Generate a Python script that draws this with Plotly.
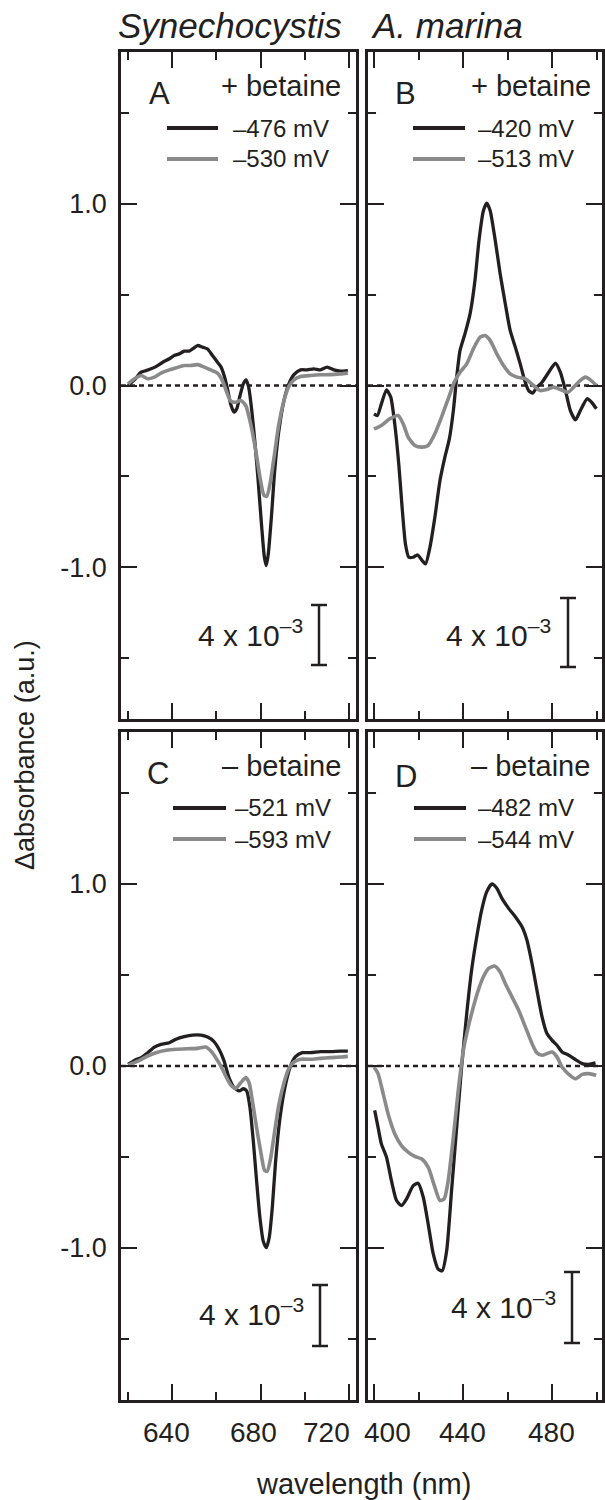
import plotly.graph_objects as go

# ---------------- data ----------------
# Panel A: Synechocystis + betaine
A_wl_black = [620.0, 622.9, 625.9, 628.1, 630.4, 632.6, 635.7, 638.7, 640.9, 643.2, 645.4, 647.7, 649.2,
              651.5, 653.7, 656.0, 658.2, 660.5, 662.0, 663.5, 665.0, 666.5, 668.0, 669.2, 670.7, 672.2,
              673.4, 674.6, 676.0, 677.5, 679.0, 680.5, 681.7, 682.6, 683.5, 684.9, 686.4, 688.3, 690.6,
              692.8, 695.1, 698.1, 701.1, 704.1, 707.1, 710.1, 713.2, 716.2, 719.5]
A_black = [0.0, 0.031, 0.073, 0.082, 0.092, 0.104, 0.128, 0.147, 0.165, 0.174, 0.189, 0.189, 0.201,
           0.220, 0.211, 0.201, 0.165, 0.128, 0.104, 0.055, -0.018, -0.104, -0.147, -0.128, -0.055, 0.009,
           0.031, -0.009, -0.137, -0.321, -0.540, -0.778, -0.943, -0.991, -0.925, -0.723, -0.467, -0.247, -0.082,
           0.009, 0.060, 0.086, 0.086, 0.092, 0.086, 0.101, 0.086, 0.079, 0.082]
A_wl_gray = [620.0, 622.9, 625.9, 628.9, 631.9, 634.9, 638.7, 641.7, 645.4, 648.4, 651.5, 654.5, 657.5,
             660.5, 662.7, 664.7, 666.5, 668.8, 671.0, 673.3, 675.5, 677.8, 679.7, 681.5, 682.8, 684.3,
             686.1, 688.3, 690.6, 692.8, 695.1, 698.1, 702.6, 707.1, 711.6, 716.2, 719.5]
A_gray = [0.009, 0.037, 0.055, 0.037, 0.046, 0.068, 0.086, 0.097, 0.110, 0.110, 0.115, 0.101, 0.086,
          0.068, 0.027, -0.037, -0.086, -0.092, -0.082, -0.110, -0.211, -0.357, -0.504, -0.604, -0.610, -0.540,
          -0.394, -0.211, -0.082, -0.005, 0.031, 0.049, 0.055, 0.059, 0.060, 0.064, 0.068]

# Panel B: A. marina + betaine
B_wl_black = [400.0, 401.5, 403.3, 405.6, 407.5, 409.3, 411.1, 412.6, 414.1, 415.6, 417.6, 419.5, 421.6,
              423.1, 425.1, 427.3, 429.6, 431.8, 433.8, 435.6, 437.1, 438.6, 440.8, 443.1, 445.3, 447.1,
              449.1, 450.6, 452.1, 454.4, 456.6, 458.9, 461.1, 463.4, 465.6, 467.6, 469.4, 471.2, 473.1,
              475.4, 478.4, 481.4, 483.6, 485.9, 488.1, 490.4, 492.6, 495.6, 497.6, 499.8]
B_black = [-0.156, -0.165, -0.101, -0.024, -0.064, -0.211, -0.431, -0.670, -0.872, -0.945, -0.945, -0.932, -0.963,
           -0.982, -0.890, -0.725, -0.523, -0.394, -0.294, -0.138, 0.046, 0.193, 0.284, 0.394, 0.578, 0.798,
           0.963, 1.004, 0.963, 0.798, 0.615, 0.450, 0.303, 0.211, 0.119, 0.028, -0.028, -0.042, -0.009,
           0.018, 0.073, 0.123, 0.073, -0.028, -0.138, -0.189, -0.138, -0.073, -0.092, -0.128]
B_wl_gray = [400.0, 403.3, 407.1, 410.8, 413.1, 415.3, 418.3, 421.3, 424.3, 427.3, 430.3, 433.3, 436.0,
             438.6, 441.6, 444.6, 447.6, 449.8, 452.1, 455.1, 458.1, 461.1, 464.1, 467.9, 471.6, 474.6,
             477.6, 480.6, 483.6, 487.1, 489.6, 492.6, 494.8, 497.1, 499.8]
B_gray = [-0.239, -0.220, -0.183, -0.165, -0.211, -0.284, -0.330, -0.339, -0.330, -0.266, -0.174, -0.073, 0.018,
          0.073, 0.119, 0.202, 0.266, 0.275, 0.248, 0.174, 0.110, 0.064, 0.046, 0.037, 0.000, -0.028,
          -0.022, -0.009, -0.022, -0.037, -0.009, 0.028, 0.046, 0.031, 0.0]

# Panel C: Synechocystis - betaine
C_wl_black = [620.0, 622.9, 625.9, 628.9, 631.9, 634.9, 638.7, 641.7, 645.4, 649.2, 653.0, 656.0, 658.7,
              661.2, 663.5, 665.7, 668.0, 670.3, 672.2, 673.7, 675.2, 676.7, 678.2, 679.7, 681.2, 682.6,
              683.9, 685.3, 686.8, 688.8, 691.0, 693.3, 695.8, 698.9, 702.6, 707.1, 711.6, 716.2, 719.5]
C_black = [0.009, 0.031, 0.046, 0.073, 0.104, 0.119, 0.128, 0.147, 0.161, 0.170, 0.170, 0.159, 0.137,
           0.092, 0.027, -0.064, -0.119, -0.137, -0.125, -0.137, -0.229, -0.412, -0.632, -0.833, -0.962, -0.998,
           -0.943, -0.778, -0.522, -0.284, -0.119, -0.009, 0.051, 0.073, 0.073, 0.079, 0.079, 0.082, 0.082]
C_wl_gray = [620.0, 624.4, 628.9, 632.6, 637.2, 641.7, 646.9, 651.5, 655.2, 657.5, 659.7, 662.0, 664.2,
             666.5, 668.8, 671.0, 673.3, 674.8, 676.3, 678.2, 680.0, 681.8, 683.0, 684.6, 686.4, 688.3,
             690.6, 692.8, 695.1, 698.1, 702.6, 707.1, 711.6, 716.2, 719.5]
C_gray = [0.005, 0.027, 0.055, 0.073, 0.086, 0.092, 0.095, 0.097, 0.104, 0.082, 0.046, 0.0, -0.055,
          -0.104, -0.123, -0.092, -0.064, -0.092, -0.192, -0.339, -0.467, -0.573, -0.579, -0.504, -0.357, -0.211,
          -0.092, -0.013, 0.022, 0.037, 0.037, 0.042, 0.046, 0.049, 0.053]

# Panel D: A. marina - betaine
D_wl_black = [400.3, 401.8, 403.3, 405.6, 407.8, 410.1, 412.3, 414.6, 417.6, 419.8, 422.1, 424.3, 426.6,
              428.8, 430.6, 432.6, 434.8, 437.1, 439.3, 441.6, 443.8, 446.1, 448.3, 450.6, 452.9, 455.1,
              457.4, 460.4, 463.4, 466.4, 468.6, 470.9, 473.1, 475.4, 477.6, 479.9, 482.1, 484.4, 487.4,
              490.4, 493.4, 496.4, 499.4]
D_black = [-0.244, -0.336, -0.428, -0.501, -0.629, -0.739, -0.767, -0.730, -0.657, -0.644, -0.721, -0.868, -1.033,
           -1.116, -1.125, -1.015, -0.684, -0.336, -0.006, 0.288, 0.527, 0.710, 0.857, 0.958, 1.000, 0.976,
           0.921, 0.866, 0.820, 0.765, 0.692, 0.563, 0.417, 0.270, 0.178, 0.141, 0.114, 0.077, 0.059,
           0.035, 0.013, 0.009, 0.017]
D_wl_gray = [400.0, 401.8, 404.1, 406.3, 409.3, 412.3, 415.3, 418.3, 421.3, 424.3, 427.3, 429.6, 431.5,
             433.3, 435.6, 437.8, 440.1, 442.3, 444.6, 446.8, 449.1, 451.4, 454.1, 456.6, 458.9, 461.9,
             464.9, 467.9, 470.9, 473.1, 475.4, 477.6, 479.9, 482.1, 484.4, 487.4, 490.4, 493.4, 496.4, 499.7]
D_gray = [-0.006, -0.042, -0.152, -0.262, -0.372, -0.437, -0.473, -0.497, -0.510, -0.556, -0.666, -0.739, -0.730,
          -0.629, -0.391, -0.134, 0.086, 0.215, 0.325, 0.417, 0.490, 0.536, 0.549, 0.517, 0.453, 0.380,
          0.306, 0.215, 0.123, 0.072, 0.059, 0.068, 0.077, 0.050, -0.006, -0.046, -0.070, -0.046, -0.042, -0.051]

panel_letters = ["A", "B", "C", "D"]
conditions = ["+ betaine", "+ betaine", "– betaine", "– betaine"]
potentials = [["–476 mV", "–530 mV"], ["–420 mV", "–513 mV"],
              ["–521 mV", "–593 mV"], ["–482 mV", "–544 mV"]]
organisms = ["Synechocystis", "A. marina"]

y_major = [-1.0, 0.0, 1.0]
y_major_text = ["-1.0", "0.0", "1.0"]
y_minor = [-1.5, -0.5, 0.5, 1.5]
xA_major = [640, 680, 720]
xA_minor = [620, 660, 700]
xB_major = [400, 440, 480]
xB_minor = [420, 460, 500]
scale_label = "4 x 10<sup>–3</sup>"

# ---------------- styling / layout ----------------
W, H = 605, 1500
INK = "#231f20"
GRAY = "#8a8a8a"
FONT = "Liberation Sans, Arial, sans-serif"


def px(xp):
    return xp / W


def py(yp):
    return 1 - yp / H


col_dom = [[px(121), px(356)], [px(368), px(602)]]
row_dom = [[py(719), py(52)], [py(1400), py(732)]]
xranges = [[616.8, 723.2], [397.3, 502.3]]

fig = go.Figure()

panels = [
    (A_wl_black, A_black, A_wl_gray, A_gray),
    (B_wl_black, B_black, B_wl_gray, B_gray),
    (C_wl_black, C_black, C_wl_gray, C_gray),
    (D_wl_black, D_black, D_wl_gray, D_gray),
]

for i, (xb, yb, xg, yg) in enumerate(panels):
    sfx = "" if i == 0 else str(i + 1)
    fig.add_trace(go.Scatter(x=xb, y=yb, mode="lines", line=dict(color=INK, width=3.3, shape="spline", smoothing=0.6),
                             name=potentials[i][0], xaxis="x" + sfx, yaxis="y" + sfx, showlegend=False))
    fig.add_trace(go.Scatter(x=xg, y=yg, mode="lines", line=dict(color=GRAY, width=3.6, shape="spline", smoothing=0.6),
                             name=potentials[i][1], xaxis="x" + sfx, yaxis="y" + sfx, showlegend=False))

layout = dict(width=W, height=H, margin=dict(l=0, r=0, t=0, b=0, autoexpand=False),
              paper_bgcolor="white", plot_bgcolor="white", showlegend=False,
              font=dict(family=FONT, color=INK))

for i in range(4):
    sfx = "" if i == 0 else str(i + 1)
    col, row = i % 2, i // 2
    xmaj = xA_major if col == 0 else xB_major
    xmin = xA_minor if col == 0 else xB_minor
    layout["xaxis" + sfx] = dict(
        domain=col_dom[col], anchor="y" + sfx, range=xranges[col], automargin=False,
        showline=True, mirror="ticks", linecolor=INK, linewidth=2.5,
        ticks="inside", ticklen=16, tickwidth=2, tickcolor=INK,
        tickvals=xmaj, showticklabels=False,
        minor=dict(ticks="inside", ticklen=8, tickwidth=2, tickcolor=INK, tickvals=xmin, showgrid=False),
        showgrid=False, zeroline=False, fixedrange=True)
    layout["yaxis" + sfx] = dict(
        domain=row_dom[row], anchor="x" + sfx, range=[-1.835, 1.835], automargin=False,
        showline=True, mirror="ticks", linecolor=INK, linewidth=2.5,
        ticks="inside", ticklen=16, tickwidth=2, tickcolor=INK,
        tickvals=y_major, ticktext=y_major_text, showticklabels=(col == 0),
        tickfont=dict(size=27, family=FONT, color=INK), ticklabelstandoff=6,
        minor=dict(ticks="inside", ticklen=8, tickwidth=2, tickcolor=INK, tickvals=y_minor, showgrid=False),
        showgrid=False, zeroline=False, fixedrange=True)

fig.update_layout(**layout)

shapes = []
annotations = []

# x tick labels of the bottom row (placed at the tick values, nudged apart like the reference)
xA_shift = [-6, -7, -22]
xB_shift = [13, -1, -1]
for vals, shifts, ax in ((xA_major, xA_shift, "x3"), (xB_major, xB_shift, "x4")):
    for v, s in zip(vals, shifts):
        annotations.append(dict(x=v, y=py(1432), xref=ax, yref="paper", xanchor="center", yanchor="middle",
                                xshift=s, text=str(v), showarrow=False, font=dict(size=28, color=INK, family=FONT)))

# zero dashed lines
for i in range(4):
    sfx = "" if i == 0 else str(i + 1)
    shapes.append(dict(type="line", xref="x" + sfx + " domain", yref="y" + sfx, x0=0, x1=1, y0=0, y1=0,
                       line=dict(color=INK, width=2.5, dash="5px,4px"), layer="below"))

# organism titles
annotations.append(dict(x=px(116), y=py(25), xref="paper", yref="paper", xanchor="left", yanchor="middle",
                        text="<i>" + organisms[0] + "</i>", showarrow=False, font=dict(size=35, color=INK, family=FONT)))
annotations.append(dict(x=px(369), y=py(25), xref="paper", yref="paper", xanchor="left", yanchor="middle",
                        text="<i>" + organisms[1] + "</i>", showarrow=False, font=dict(size=35, color=INK, family=FONT)))

# per-panel decorations (pixel positions)
letter_pos = [(159, 93), (405, 93), (158, 773), (406, 776)]
cond_pos = [(343, 86), (593, 86), (343, 766), (592, 766)]
leg_line_x = [(167, 218), (413, 465), (173, 226), (414, 466)]
leg_text_x = [231, 476, 233, 476]
leg_rows = [(128, 159), (128, 159), (808, 839), (808, 839)]
bar_pos = [(319, 605, 665), (568, 598, 667), (320, 1285, 1346), (572, 1272, 1343)]
bar_text = [(305, 633), (553, 633), (306, 1312), (558, 1305)]

for i in range(4):
    lx, ly = letter_pos[i]
    annotations.append(dict(x=px(lx), y=py(ly), xref="paper", yref="paper", xanchor="center", yanchor="middle",
                            text=panel_letters[i], showarrow=False, font=dict(size=31, color=INK, family=FONT)))
    cx, cy = cond_pos[i]
    annotations.append(dict(x=px(cx), y=py(cy), xref="paper", yref="paper", xanchor="right", yanchor="middle",
                            text=conditions[i], showarrow=False, font=dict(size=29, color=INK, family=FONT)))
    x0, x1 = leg_line_x[i]
    for k, (rowy, colr) in enumerate(zip(leg_rows[i], [INK, GRAY])):
        shapes.append(dict(type="line", xref="paper", yref="paper", x0=px(x0), x1=px(x1), y0=py(rowy), y1=py(rowy),
                           line=dict(color=colr, width=4)))
        annotations.append(dict(x=px(leg_text_x[i]), y=py(rowy), xref="paper", yref="paper", xanchor="left",
                                yanchor="middle", text=potentials[i][k], showarrow=False,
                                font=dict(size=24, color=INK, family=FONT)))
    bx, by0, by1 = bar_pos[i]
    shapes.append(dict(type="line", xref="paper", yref="paper", x0=px(bx), x1=px(bx), y0=py(by0), y1=py(by1),
                       line=dict(color=INK, width=2.5)))
    for yy in (by0, by1):
        shapes.append(dict(type="line", xref="paper", yref="paper", x0=px(bx - 8), x1=px(bx + 8), y0=py(yy), y1=py(yy),
                           line=dict(color=INK, width=2.5)))
    tx, ty = bar_text[i]
    annotations.append(dict(x=px(tx), y=py(ty), xref="paper", yref="paper", xanchor="right", yanchor="middle",
                            text=scale_label, showarrow=False, font=dict(size=30, color=INK, family=FONT)))

# axis titles
annotations.append(dict(x=px(25), y=py(755), xref="paper", yref="paper", xanchor="center", yanchor="middle",
                        text="Δabsorbance (a.u.)", textangle=-90, showarrow=False,
                        font=dict(size=27, color=INK, family=FONT)))
annotations.append(dict(x=px(363), y=py(1484), xref="paper", yref="paper", xanchor="center", yanchor="middle",
                        text="wavelength (nm)", showarrow=False, font=dict(size=29, color=INK, family=FONT)))

fig.update_layout(shapes=shapes, annotations=annotations)
fig.write_html("out.html", config={"displayModeBar": False},
               post_script="document.body.style.margin='0';document.body.style.padding='0';")
